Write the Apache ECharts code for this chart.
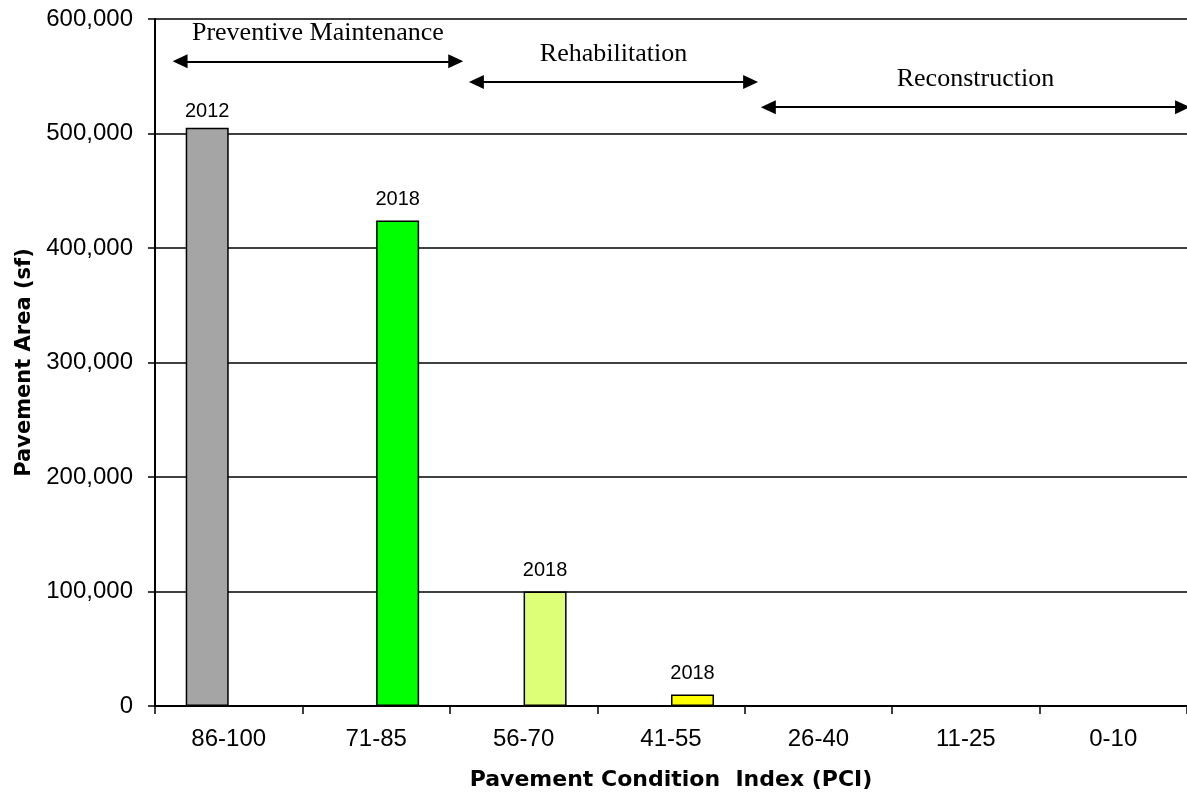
<!DOCTYPE html>
<html>
<head>
<meta charset="utf-8">
<script src="https://cdn.jsdelivr.net/npm/echarts@6/dist/echarts.min.js"></script>
<style>
  html, body { margin: 0; padding: 0; background: #ffffff; }
  #chart { width: 1187px; height: 796px; }
</style>
</head>
<body>
<div id="chart"></div>
<script>
// PCI bands on the horizontal axis
const categories = ['86-100', '71-85', '56-70', '41-55', '26-40', '11-25', '0-10'];
// Pavement area (sf) per band and survey year
const area2012 = [505000, 0, 0, 0, 0, 0, 0];
const area2018 = [0, 424000, 100000, 10000, 0, 0, 0];
// Bar fill per band for the 2018 survey
const colors2018 = ['#a5a5a5', '#00ff00', '#ddff77', '#ffff00', '#ff9900', '#ff0000', '#990000'];
const color2012 = '#a5a5a5';
// Y tick values
const yTicks = { min: 0, max: 600000, step: 100000 };

// Treatment ranges: [start, end] in band units along the axis, height in sf
const treatments = [
  { name: 'Preventive Maintenance', from: 0.17, to: 2.04, at: 563000 },
  { name: 'Rehabilitation',         from: 2.18, to: 4.04, at: 545000 },
  { name: 'Reconstruction',         from: 4.16, to: 6.97, at: 523000 }
];

const tickFont = 'Liberation Sans';
const titleFont = 'DejaVu Sans';

const chart = echarts.init(document.getElementById('chart'), null, { renderer: 'canvas' });

const fmt = v => v.toLocaleString('en-US');

chart.setOption({
  backgroundColor: '#ffffff',
  animation: false,
  grid: { left: 155, top: 19, height: 687, right: 0 },
  xAxis: [
    {
      type: 'category',
      data: categories,
      boundaryGap: true,
      axisLine: { show: true, lineStyle: { color: '#000', width: 2 } },
      axisTick: { show: true, length: 8, inside: false, lineStyle: { color: '#000', width: 1.5 } },
      axisLabel: { color: '#000', fontFamily: tickFont, fontSize: 24, margin: 21 },
      name: 'Pavement Condition  Index (PCI)',
      nameLocation: 'middle',
      nameGap: 63,
      nameTextStyle: { color: '#000', fontFamily: titleFont, fontWeight: 'bold', fontSize: 22 }
    },
    {
      type: 'value',
      min: 0,
      max: categories.length,
      show: false
    }
  ],
  yAxis: {
    type: 'value',
    min: yTicks.min,
    max: yTicks.max,
    interval: yTicks.step,
    axisLine: { show: true, lineStyle: { color: '#000', width: 2 } },
    axisTick: { show: true, length: 7, lineStyle: { color: '#000', width: 1.5 } },
    axisLabel: { color: '#000', fontFamily: tickFont, fontSize: 24, margin: 22, formatter: v => fmt(v) },
    splitLine: { show: true, lineStyle: { color: '#000', width: 1.5 } },
    name: 'Pavement Area (sf)',
    nameLocation: 'middle',
    nameGap: 120,
    nameRotate: 90,
    nameTextStyle: { color: '#000', fontFamily: titleFont, fontWeight: 'bold', fontSize: 21 }
  },
  series: [
    {
      name: '2012',
      type: 'bar',
      barWidth: 43,
      barGap: '0%',
      data: area2012,
      itemStyle: { color: color2012, borderColor: '#000', borderWidth: 1.5 },
      label: {
        show: true, position: 'top', distance: 6,
        color: '#000', fontFamily: tickFont, fontSize: 20,
        formatter: p => (p.value > 0 ? p.seriesName : '')
      }
    },
    {
      name: '2018',
      type: 'bar',
      barWidth: 43,
      barGap: '0%',
      data: area2018.map((v, i) => ({ value: v, itemStyle: { color: colors2018[i] } })),
      itemStyle: { borderColor: '#000', borderWidth: 1.5 },
      label: {
        show: true, position: 'top', distance: 11,
        color: '#000', fontFamily: tickFont, fontSize: 20,
        formatter: p => (p.value > 0 ? p.seriesName : '')
      }
    },
    {
      name: 'treatments',
      type: 'line',
      xAxisIndex: 1,
      yAxisIndex: 0,
      data: [],
      silent: true,
      markLine: {
        silent: true,
        animation: false,
        symbol: ['triangle', 'triangle'],
        symbolSize: [14, 15],
        lineStyle: { color: '#000', width: 2, type: 'solid' },
        label: {
          show: true,
          position: 'insideMiddleTop',
          distance: 15,
          color: '#000',
          fontFamily: 'Liberation Serif',
          fontSize: 26,
          formatter: p => p.name
        },
        data: treatments.map(t => [
          { name: t.name, coord: [t.from, t.at] },
          { coord: [t.to, t.at] }
        ])
      }
    }
  ]
});
</script>
</body>
</html>
